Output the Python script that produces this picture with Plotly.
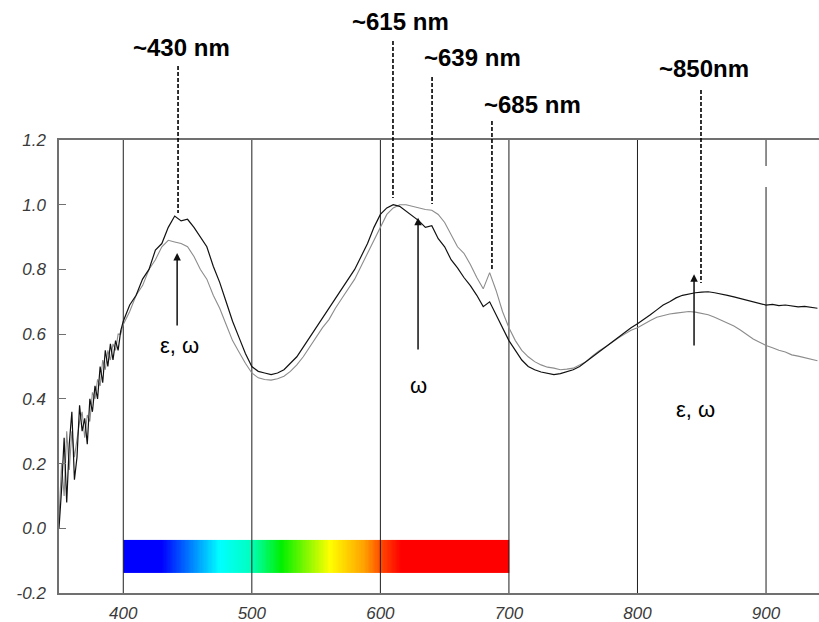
import plotly.graph_objects as go
import numpy as np

# ---------------- data ----------------
wl_noisy = [350, 352, 354, 356, 358, 360, 362, 364, 366, 368, 370, 372, 374,
            376, 378, 380, 382, 384, 386, 388, 390, 392, 394, 396, 398]
dark_noisy = [0.00, 0.12, 0.28, 0.08, 0.26, 0.36, 0.15, 0.22, 0.38, 0.30, 0.34, 0.26, 0.40,
              0.36, 0.44, 0.40, 0.50, 0.45, 0.55, 0.50, 0.57, 0.52, 0.58, 0.55, 0.61]
light_noisy = [0.03, 0.20, 0.10, 0.30, 0.18, 0.30, 0.22, 0.28, 0.33, 0.36, 0.28, 0.35, 0.33,
               0.42, 0.40, 0.46, 0.44, 0.52, 0.49, 0.55, 0.52, 0.57, 0.55, 0.60, 0.60]

wl_main = list(range(400, 945, 5))
dark_main = [
    0.64, 0.69, 0.72, 0.77, 0.80, 0.86, 0.88, 0.93, 0.965, 0.95,   # 400-445
    0.955, 0.93, 0.90, 0.87, 0.81, 0.76, 0.70, 0.64, 0.59, 0.54,   # 450-495
    0.50, 0.485, 0.48, 0.475, 0.48, 0.49, 0.51, 0.53, 0.56, 0.59,  # 500-545
    0.62, 0.65, 0.68, 0.71, 0.74, 0.77, 0.80, 0.84, 0.88, 0.93,    # 550-595
    0.97, 0.99, 1.00, 0.995, 0.98, 0.965, 0.95, 0.93, 0.935, 0.895,  # 600-645
    0.87, 0.83, 0.805, 0.775, 0.75, 0.72, 0.685, 0.70, 0.66, 0.62,  # 650-695
    0.58, 0.55, 0.52, 0.50, 0.49, 0.483, 0.478, 0.475, 0.478, 0.483,  # 700-745
    0.49, 0.50, 0.515, 0.53, 0.545, 0.56, 0.575, 0.59, 0.605, 0.62,  # 750-795
    0.632, 0.645, 0.66, 0.675, 0.69, 0.70, 0.712, 0.72, 0.725, 0.728,  # 800-845
    0.73, 0.731, 0.728, 0.725, 0.72, 0.715, 0.71, 0.706, 0.70, 0.696,  # 850-895
    0.69, 0.692, 0.688, 0.69, 0.686, 0.684, 0.686, 0.682, 0.68,        # 900-940
]
light_main = [
    0.63, 0.67, 0.72, 0.75, 0.80, 0.83, 0.87, 0.89, 0.885, 0.88,   # 400-445
    0.87, 0.84, 0.80, 0.77, 0.72, 0.68, 0.63, 0.58, 0.545, 0.51,   # 450-495
    0.48, 0.465, 0.46, 0.458, 0.462, 0.47, 0.485, 0.505, 0.53, 0.56,  # 500-545
    0.59, 0.62, 0.645, 0.68, 0.71, 0.74, 0.77, 0.81, 0.85, 0.89,   # 550-595
    0.935, 0.97, 0.99, 1.00, 1.00, 0.995, 0.99, 0.985, 0.983, 0.97,  # 600-645
    0.945, 0.905, 0.87, 0.85, 0.815, 0.775, 0.74, 0.79, 0.735, 0.67,  # 650-695
    0.62, 0.58, 0.55, 0.53, 0.515, 0.505, 0.498, 0.495, 0.49, 0.492,  # 700-745
    0.495, 0.505, 0.515, 0.533, 0.548, 0.56, 0.575, 0.588, 0.60, 0.612,  # 750-795
    0.62, 0.632, 0.642, 0.652, 0.658, 0.662, 0.665, 0.668, 0.67, 0.668,  # 800-845
    0.665, 0.66, 0.652, 0.643, 0.635, 0.625, 0.613, 0.60, 0.585, 0.575,  # 850-895
    0.565, 0.558, 0.55, 0.545, 0.536, 0.532, 0.528, 0.522, 0.518,       # 900-940
]

x_ticks = [400, 500, 600, 700, 800, 900]
y_ticks = [-0.2, 0.0, 0.2, 0.4, 0.6, 0.8, 1.0, 1.2]

# peak labels and the wavelength of their dashed lines
peak_labels = ["~430 nm", "~615 nm", "~639 nm", "~685 nm", "~850nm"]
peak_wl = [442.6, 609.8, 640.2, 686.8, 849.4]

# arrow labels: text, wavelength, head value, tail value
arrow_text = ["ε, ω", "ω", "ε, ω"]
arrow_wl = [441.9, 629.3, 844.0]
arrow_head = [0.851, 0.960, 0.785]
arrow_tail = [0.622, 0.548, 0.560]

# visible spectrum colour bar
spec_range = [400, 700]
spec_y = [-0.138, -0.036]

# ---------------- figure ----------------
L, R, T, B = 59, 0, 140, 29
W, H = 819, 622
PW, PH = W - L - R, H - T - B
XR = [350, 941.2]
YR = [-0.2, 1.2]


def py2paper(py):
    return (H - B - py) / PH


fig = go.Figure()

edges = np.linspace(spec_range[0], spec_range[1], 301)
mids = (edges[:-1] + edges[1:]) / 2
cs = [
    [0.0, "rgb(0,0,255)"],
    [0.10, "rgb(0,0,255)"],
    [0.25, "rgb(0,255,255)"],
    [0.33, "rgb(0,255,190)"],
    [0.41, "rgb(0,240,0)"],
    [0.535, "rgb(255,255,0)"],
    [0.625, "rgb(255,160,0)"],
    [0.67, "rgb(255,70,0)"],
    [0.72, "rgb(255,0,0)"],
    [1.0, "rgb(255,0,0)"],
]
fig.add_trace(go.Heatmap(
    x=edges, y=spec_y, z=[list(mids)], colorscale=cs, showscale=False,
    zmin=spec_range[0], zmax=spec_range[1], hoverinfo="skip",
))

gx, gy = [], []
for t in x_ticks:
    gx += [t, t, None]
    gy += [YR[0], YR[1], None]
fig.add_trace(go.Scatter(x=gx, y=gy, mode="lines",
                         line=dict(color="#1e1e1e", width=1),
                         hoverinfo="skip", showlegend=False))

fig.add_trace(go.Scatter(x=wl_noisy + wl_main, y=light_noisy + light_main, mode="lines",
                         line=dict(color="#8c8c8c", width=1.1), showlegend=False))
fig.add_trace(go.Scatter(x=wl_noisy + wl_main, y=dark_noisy + dark_main, mode="lines",
                         line=dict(color="#111111", width=1.2), showlegend=False))

shapes = []
annotations = []

label_px = [(181, 47), (400, 21), (472, 58), (532, 104), (704, 68)]
dash_py = [(66, 213), (41, 198), (77, 204), (121, 270), (90, 283)]
for txt, wl, (lx, ly), (d0, d1) in zip(peak_labels, peak_wl, label_px, dash_py):
    shapes.append(dict(type="line", xref="x", yref="paper", x0=wl, x1=wl,
                       y0=py2paper(d0), y1=py2paper(d1),
                       line=dict(color="black", width=1.6, dash="4px,2px"), layer="above"))
    annotations.append(dict(text="<b>%s</b>" % txt, xref="paper", yref="paper",
                            x=(lx - L) / PW, y=py2paper(ly), showarrow=False,
                            xanchor="center", yanchor="middle",
                            font=dict(size=24, color="black", family="Liberation Sans, Arial")))

arrow_label_px = [(179, 345), (418, 385), (695, 410)]
for txt, wl, hd, tl, (tx, ty) in zip(arrow_text, arrow_wl, arrow_head, arrow_tail, arrow_label_px):
    annotations.append(dict(text="", x=wl, y=hd, ax=wl, ay=tl, xref="x", yref="y",
                            axref="x", ayref="y", showarrow=True, arrowhead=2,
                            arrowsize=1.0, arrowwidth=1.5, arrowcolor="#111111"))
    annotations.append(dict(text=txt, xref="paper", yref="paper",
                            x=(tx - L) / PW, y=py2paper(ty), showarrow=False,
                            xanchor="center", yanchor="middle",
                            font=dict(size=22, color="black", family="Liberation Sans, Arial")))

shapes.append(dict(type="rect", xref="paper", yref="paper",
                   x0=(755 - L) / PW, x1=(790 - L) / PW,
                   y0=py2paper(187), y1=py2paper(166),
                   fillcolor="white", line=dict(width=0), layer="above"))

fig.update_layout(
    width=W, height=H,
    margin=dict(l=L, r=R, t=T, b=B, pad=0),
    paper_bgcolor="white", plot_bgcolor="white",
    shapes=shapes, annotations=annotations,
    showlegend=False,
    xaxis=dict(range=XR, tickvals=x_ticks, ticktext=[str(v) for v in x_ticks],
               showgrid=False, zeroline=False, showline=True, linecolor="#707070",
               linewidth=1.5, mirror=True, ticks="", ticklabelstandoff=4,
               tickfont=dict(family="Liberation Sans, Arial", size=17, color="#3a3a3a",
                             style="italic")),
    yaxis=dict(range=YR, tickvals=y_ticks, ticktext=["%.1f" % v for v in y_ticks],
               showgrid=False, zeroline=False, showline=True, linecolor="#707070",
               linewidth=1.5, ticks="inside", ticklen=7, tickcolor="#707070",
               tickwidth=1.2, ticklabelstandoff=8,
               tickfont=dict(family="Liberation Sans, Arial", size=17, color="#3a3a3a",
                             style="italic")),
)

fig.write_html("out.html", config={"displayModeBar": False},
               post_script="document.body.style.margin='0';document.body.style.overflow='hidden';")
